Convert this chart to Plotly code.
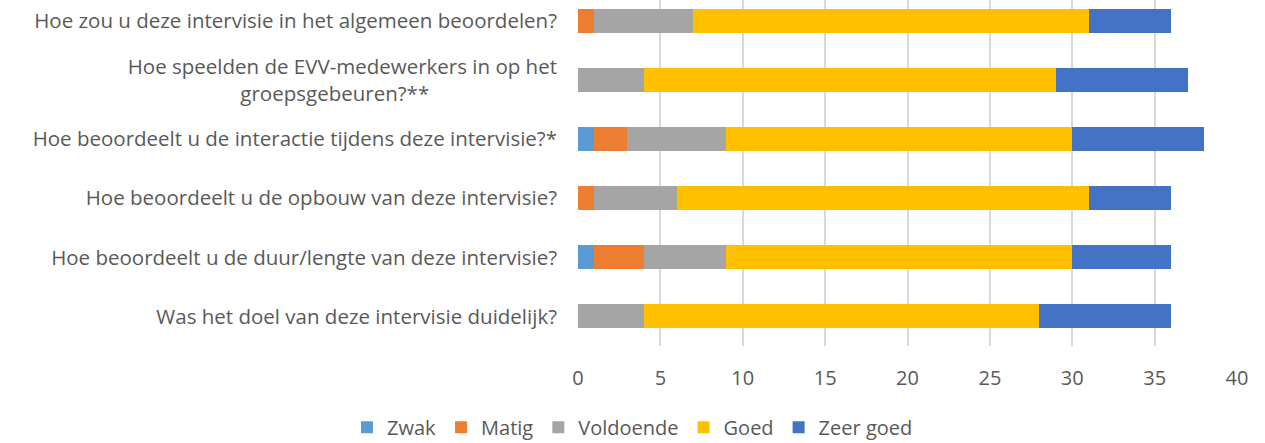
import plotly.graph_objects as go

NBSP = "\u00a0"

categories = [
    "Was het doel van deze intervisie duidelijk?",
    "Hoe beoordeelt u de duur/lengte van deze intervisie?",
    "Hoe beoordeelt u de opbouw van deze intervisie?",
    "Hoe beoordeelt u de interactie tijdens deze intervisie?*",
    "Hoe speelden de EVV-medewerkers in op het groepsgebeuren?**",
    "Hoe zou u deze intervisie in het algemeen beoordelen?",
]
tick_labels = [
    "Was het doel van deze intervisie duidelijk?",
    "Hoe beoordeelt u de duur/lengte van deze intervisie?",
    "Hoe beoordeelt u de opbouw van deze intervisie?",
    "Hoe beoordeelt u de interactie tijdens deze intervisie?*",
    "Hoe speelden de EVV-medewerkers in op het<br>groepsgebeuren?**" + NBSP * 24,
    "Hoe zou u deze intervisie in het algemeen beoordelen?",
]

zwak = [0, 1, 0, 1, 0, 0]
matig = [0, 3, 1, 2, 0, 1]
voldoende = [4, 5, 5, 6, 4, 6]
goed = [24, 21, 25, 21, 25, 24]
zeer_goed = [8, 6, 5, 8, 8, 5]

series = [
    ("Zwak", zwak, "#5B9BD5"),
    ("Matig", matig, "#ED7D31"),
    ("Voldoende", voldoende, "#A5A5A5"),
    ("Goed", goed, "#FFC000"),
    ("Zeer goed", zeer_goed, "#4472C4"),
]

fig = go.Figure()
for name, vals, color in series:
    fig.add_trace(go.Bar(
        y=categories, x=vals, name=name, orientation="h",
        marker=dict(color=color, line=dict(width=0)),
    ))

font_color = "#595959"
fig.update_layout(
    barmode="stack",
    bargap=0.593,
    width=1265, height=443,
    margin=dict(l=578, r=28, t=0, b=97, autoexpand=False),
    paper_bgcolor="white", plot_bgcolor="white",
    font=dict(family="Open Sans", size=20, color=font_color),
    legend=dict(
        orientation="h", xref="container", yref="paper",
        x=0.5, xanchor="center", y=-0.235, yanchor="middle",
        font=dict(size=20, color=font_color),
        itemwidth=30, traceorder="normal",
    ),
    showlegend=True,
)
fig.update_xaxes(
    range=[0, 40], dtick=5, showgrid=True, gridcolor="#D9D9D9", gridwidth=1.5,
    zeroline=False, showline=False, ticks="", ticklabelstandoff=18,
    tickfont=dict(size=20, color=font_color),
)
fig.update_yaxes(
    type="category", categoryorder="array", categoryarray=categories,
    tickmode="array", tickvals=categories, ticktext=tick_labels,
    range=[-0.5, 5.355], showgrid=False, zeroline=False, showline=False,
    ticks="", ticklabelstandoff=20, tickfont=dict(size=20.5, color=font_color),
)

fig.write_html(
    "out.html",
    config={"displayModeBar": False},
    post_script="document.body.style.margin='0';",
)
